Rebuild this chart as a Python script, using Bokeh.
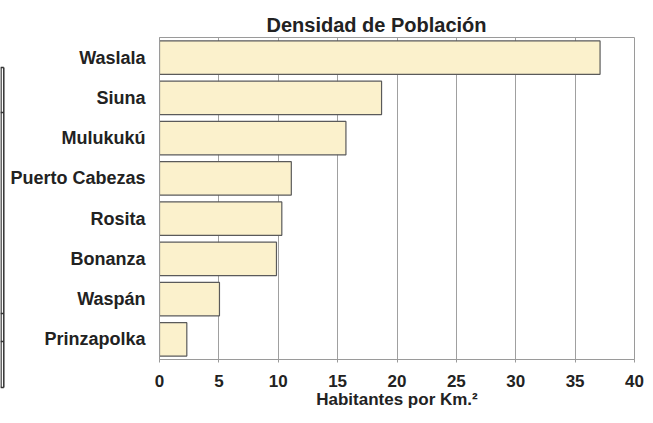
from bokeh.plotting import figure
from bokeh.layouts import row
from bokeh.models import FactorRange, Range1d, FixedTicker
from bokeh.embed import file_html
from bokeh.resources import INLINE

municipios = ["Waslala", "Siuna", "Mulukukú", "Puerto Cabezas", "Rosita",
              "Bonanza", "Waspán", "Prinzapolka"]
densidad = [37.1, 18.7, 15.7, 11.1, 10.3, 9.85, 5.05, 2.3]
x_ticks = [0, 5, 10, 15, 20, 25, 30, 35, 40]

FONT = "Liberation Sans"
TXT = "#222222"
EDGE_W = 5

# fragment of a neighbouring table frame, cut off at the left edge of the picture
edge = figure(width=EDGE_W, height=423, output_backend="svg", toolbar_location=None,
              x_range=Range1d(0, EDGE_W), y_range=Range1d(423, 0),
              min_border=0, outline_line_color=None)
edge.frame_align = False
edge.axis.visible = False
edge.grid.visible = False
edge.segment(x0=[3.3, 0.5], y0=[67, 67], x1=[3.3, 0.5], y1=[387, 387],
             line_color="#333333", line_width=1.5)
edge.segment(x0=[0] * 5, y0=[67, 112, 313, 341, 387], x1=[3.3] * 5,
             y1=[67, 112, 313, 341, 387], line_color="#333333", line_width=1.5)

p = figure(width=653 - EDGE_W, height=423, output_backend="svg", toolbar_location=None,
           y_range=FactorRange(factors=list(reversed(municipios)), range_padding=0),
           x_range=Range1d(0, 40),
           min_border_left=159 - EDGE_W, min_border_right=19, min_border_top=37,
           min_border_bottom=64)
p.frame_align = False

p.hbar(y=municipios, right=densidad, left=0, height=0.83,
       fill_color="#FBF1CC", line_color="#5a5a5a", line_width=1.2)

p.title.text = "Densidad de Población"
p.title.align = "left"
p.title.offset = 107
p.title.text_font = FONT
p.title.text_font_size = "20px"
p.title.text_color = TXT
p.title.standoff = 4

p.outline_line_color = "#9a9a9a"
p.outline_line_width = 1

p.xgrid.grid_line_color = "#a0a0a0"
p.xgrid.grid_line_width = 1
p.ygrid.grid_line_color = None

p.xaxis.ticker = FixedTicker(ticks=x_ticks)
p.xaxis.axis_label = "Habitantes por Km.²"
p.xaxis.axis_label_text_font = FONT
p.xaxis.axis_label_text_font_style = "bold"
p.xaxis.axis_label_text_font_size = "17px"
p.xaxis.axis_label_text_color = TXT
p.xaxis.axis_label_standoff = 0
p.xaxis.major_label_text_font = FONT
p.xaxis.major_label_text_font_style = "bold"
p.xaxis.major_label_text_font_size = "17px"
p.xaxis.major_label_text_color = TXT
p.xaxis.major_label_standoff = 12
p.xaxis.axis_line_color = "#9a9a9a"
p.xaxis.major_tick_line_color = "#9a9a9a"
p.xaxis.major_tick_out = 3
p.xaxis.major_tick_in = 0
p.xaxis.minor_tick_line_color = None

p.yaxis.major_label_text_font = FONT
p.yaxis.major_label_text_font_style = "bold"
p.yaxis.major_label_text_font_size = "18px"
p.yaxis.major_label_text_color = TXT
p.yaxis.major_label_standoff = 14
p.yaxis.axis_line_color = "#9a9a9a"
p.yaxis.major_tick_line_color = None
p.yaxis.major_tick_out = 0
p.yaxis.major_tick_in = 0

layout = row(edge, p, spacing=0)
open("out.html", "w").write(file_html(layout, INLINE))
